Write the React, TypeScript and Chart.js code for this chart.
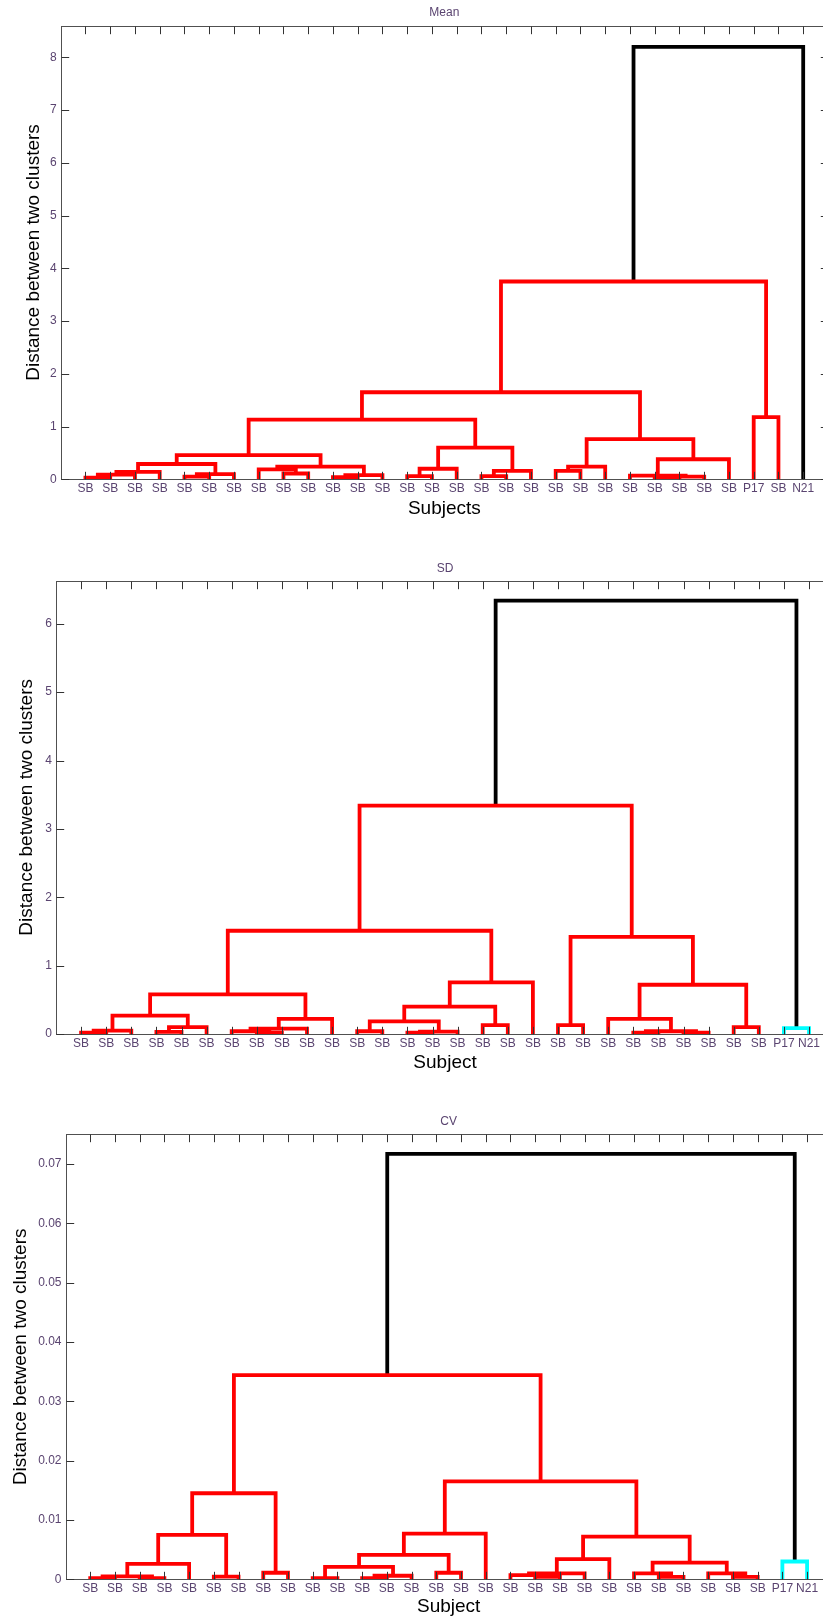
import React, { useEffect, useRef } from 'react';
import { Chart, registerables } from 'chart.js';

Chart.register(...registerables);

// ---------------- DATA ----------------
const meanLeafLabels = [
  'SB', 'SB', 'SB', 'SB', 'SB', 'SB', 'SB', 'SB', 'SB', 'SB',
  'SB', 'SB', 'SB', 'SB', 'SB', 'SB', 'SB', 'SB', 'SB', 'SB',
  'SB', 'SB', 'SB', 'SB', 'SB', 'SB', 'SB', 'P17', 'SB', 'N21',
];
const sdLeafLabels = [
  'SB', 'SB', 'SB', 'SB', 'SB', 'SB', 'SB', 'SB', 'SB', 'SB',
  'SB', 'SB', 'SB', 'SB', 'SB', 'SB', 'SB', 'SB', 'SB', 'SB',
  'SB', 'SB', 'SB', 'SB', 'SB', 'SB', 'SB', 'SB', 'P17', 'N21',
];
const cvLeafLabels = [
  'SB', 'SB', 'SB', 'SB', 'SB', 'SB', 'SB', 'SB', 'SB', 'SB',
  'SB', 'SB', 'SB', 'SB', 'SB', 'SB', 'SB', 'SB', 'SB', 'SB',
  'SB', 'SB', 'SB', 'SB', 'SB', 'SB', 'SB', 'SB', 'P17', 'N21',
];

// linkage rows: [left node, right node, merge height]
// nodes 1..30 are leaves in display order; node 31+k is the cluster made by row k
const meanLinkage: [number, number, number][] = [
  [1, 2, 0.03], [31, 3, 0.09], [32, 4, 0.14], [5, 6, 0.05], [34, 7, 0.1],
  [33, 35, 0.29], [9, 10, 0.11], [8, 37, 0.19], [11, 12, 0.04], [39, 13, 0.08],
  [38, 40, 0.24], [36, 41, 0.46], [14, 15, 0.06], [43, 16, 0.2], [17, 18, 0.06],
  [45, 19, 0.16], [44, 46, 0.6], [42, 47, 1.13], [20, 21, 0.16], [49, 22, 0.24],
  [24, 25, 0.03], [51, 26, 0.05], [23, 52, 0.07], [53, 27, 0.38], [50, 54, 0.76],
  [48, 55, 1.65], [28, 29, 1.18], [56, 57, 3.75], [58, 30, 8.2],
];
const sdLinkage: [number, number, number][] = [
  [1, 2, 0.02], [31, 3, 0.05], [4, 5, 0.03], [33, 6, 0.1], [32, 34, 0.27],
  [8, 9, 0.02], [7, 36, 0.04], [37, 10, 0.08], [38, 11, 0.22], [35, 39, 0.58],
  [12, 13, 0.04], [14, 15, 0.02], [42, 16, 0.035], [41, 43, 0.185], [17, 18, 0.13],
  [44, 45, 0.4], [46, 19, 0.756], [40, 47, 1.51], [20, 21, 0.13], [23, 24, 0.02],
  [25, 26, 0.02], [50, 51, 0.04], [22, 52, 0.22], [27, 28, 0.1], [53, 54, 0.72],
  [49, 55, 1.42], [48, 56, 3.34], [29, 30, 0.085], [57, 58, 6.34],
];
const cvLinkage: [number, number, number][] = [
  [1, 2, 0.0002], [3, 4, 0.0002], [31, 32, 0.0005], [33, 5, 0.0026], [6, 7, 0.00045],
  [34, 35, 0.0075], [8, 9, 0.0011], [36, 37, 0.0145], [10, 11, 0.0002], [12, 13, 0.0002],
  [40, 14, 0.0006], [39, 41, 0.0021], [15, 16, 0.0011], [42, 43, 0.0041], [44, 17, 0.0077],
  [19, 20, 0.0004], [18, 46, 0.0007], [47, 21, 0.001], [48, 22, 0.0034], [24, 25, 0.0004],
  [23, 50, 0.001], [27, 28, 0.0004], [26, 52, 0.001], [51, 53, 0.0028], [49, 54, 0.0072],
  [45, 55, 0.0165], [38, 56, 0.0344], [29, 30, 0.003], [57, 58, 0.0717],
];

const meanYTicks = [0, 1, 2, 3, 4, 5, 6, 7, 8];
const meanYTickLabels = ['0', '1', '2', '3', '4', '5', '6', '7', '8'];
const sdYTicks = [0, 1, 2, 3, 4, 5, 6];
const sdYTickLabels = ['0', '1', '2', '3', '4', '5', '6'];
const cvYTicks = [0, 0.01, 0.02, 0.03, 0.04, 0.05, 0.06, 0.07];
const cvYTickLabels = ['0', '0.01', '0.02', '0.03', '0.04', '0.05', '0.06', '0.07'];

const yAxisTitle = 'Distance between two clusters';

// ---------------- STYLE / LAYOUT ----------------
const FONT = "'Liberation Sans', Arial, sans-serif";
const TICK_COLOR = '#5a4470';
const AXIS_COLOR = '#505050';
const LINE_WIDTH = 3.8;
const TICK_LEN = 7.7;

interface Panel {
  title: string;
  xTitle: string;
  labels: string[];
  linkage: [number, number, number][];
  yTicks: number[];
  yTickLabels: string[];
  yMax: number;
  top: number;
  height: number;
  plotLeft: number;
  plotTop: number;
  plotBottom: number;
  spacing: number;
  titleY: number;
  yTitleX: number;
  xTitleY: number;
}

const panels: Panel[] = [
  {
    title: 'Mean', xTitle: 'Subjects', labels: meanLeafLabels, linkage: meanLinkage,
    yTicks: meanYTicks, yTickLabels: meanYTickLabels, yMax: 8.6,
    top: 0, height: 525, plotLeft: 60.7, plotTop: 25.7, plotBottom: 479.3, spacing: 24.75,
    titleY: 13, yTitleX: 33.3, xTitleY: 509,
  },
  {
    title: 'SD', xTitle: 'Subject', labels: sdLeafLabels, linkage: sdLinkage,
    yTicks: sdYTicks, yTickLabels: sdYTickLabels, yMax: 6.63,
    top: 540, height: 539, plotLeft: 56, plotTop: 580.7, plotBottom: 1034, spacing: 25.1,
    titleY: 568.3, yTitleX: 26.5, xTitleY: 1063,
  },
  {
    title: 'CV', xTitle: 'Subject', labels: cvLeafLabels, linkage: cvLinkage,
    yTicks: cvYTicks, yTickLabels: cvYTickLabels, yMax: 0.075,
    top: 1090, height: 528, plotLeft: 65.5, plotTop: 1134.3, plotBottom: 1579.3, spacing: 24.72,
    titleY: 1121.7, yTitleX: 21, xTitleY: 1607,
  },
];

function hsvColor(h: number): string {
  const i = Math.floor(h * 6);
  const f = h * 6 - i;
  const q = 1 - f;
  const rows = [[1, f, 0], [q, 1, 0], [0, 1, f], [0, q, 1], [f, 0, 1], [1, 0, q]];
  const [r, g, b] = rows[i % 6];
  return `rgb(${Math.round(r * 255)},${Math.round(g * 255)},${Math.round(b * 255)})`;
}

function buildDatasets(labels: string[], linkage: [number, number, number][]) {
  const n = labels.length;
  const x: number[] = [];
  const h: number[] = [];
  const parent: Record<number, number> = {};
  for (let i = 1; i <= n; i++) { x[i] = i; h[i] = 0; }
  linkage.forEach(([a, b, hh], k) => {
    const id = n + 1 + k;
    x[id] = (x[a] + x[b]) / 2;
    h[id] = hh;
    parent[a] = id;
    parent[b] = id;
  });
  const maxH = Math.max(...linkage.map((l) => l[2]));
  const thr = 0.7 * maxH;
  const roots: number[] = [];
  for (let id = n + 1; id <= n + linkage.length; id++) {
    const p = parent[id];
    if (h[id] < thr && (p === undefined || h[p] >= thr)) roots.push(id);
  }
  roots.sort((p, q) => x[p] - x[q]);
  const colorOf: Record<number, string> = {};
  roots.forEach((r, i) => { colorOf[r] = hsvColor(i / roots.length); });
  const groupColor = (id: number) => {
    let c: number | undefined = id;
    while (c !== undefined && !(c in colorOf)) c = parent[c];
    return c === undefined ? '#000000' : colorOf[c];
  };
  return linkage.map(([a, b, hh], k) => {
    const id = n + 1 + k;
    const color = hh >= thr ? '#000000' : groupColor(id);
    return {
      type: 'line' as const,
      data: [
        { x: x[a], y: h[a] },
        { x: x[a], y: hh },
        { x: x[b], y: hh },
        { x: x[b], y: h[b] },
      ],
      borderColor: color,
      backgroundColor: color,
      borderWidth: LINE_WIDTH,
      borderJoinStyle: 'miter' as const,
      borderCapStyle: 'butt' as const,
      pointRadius: 0,
      fill: false,
      tension: 0,
    };
  });
}

const framePlugin = {
  id: 'matlabFrame',
  afterDatasetsDraw(chart: any) {
    const { ctx, chartArea: a, scales } = chart;
    const xs = scales.x;
    const ys = scales.y;
    ctx.save();
    ctx.strokeStyle = AXIS_COLOR;
    ctx.lineWidth = 1;
    const L = Math.round(a.left) + 0.5;
    const R = Math.round(a.right) + 0.5;
    const T = Math.round(a.top) + 0.5;
    const B = Math.round(a.bottom) + 0.5;
    ctx.strokeRect(L, T, R - L, B - T);
    ctx.strokeStyle = '#333333';
    ctx.beginPath();
    xs.ticks.forEach((t: any) => {
      const px = Math.round(xs.getPixelForValue(t.value)) + 0.5;
      ctx.moveTo(px, B); ctx.lineTo(px, B - TICK_LEN);
      ctx.moveTo(px, T); ctx.lineTo(px, T + TICK_LEN);
    });
    ys.ticks.forEach((t: any) => {
      const py = Math.round(ys.getPixelForValue(t.value)) + 0.5;
      ctx.moveTo(L, py); ctx.lineTo(L + TICK_LEN, py);
      ctx.moveTo(R, py); ctx.lineTo(R - TICK_LEN, py);
    });
    ctx.stroke();
    ctx.restore();
  },
};

function DendroPanel({ p }: { p: Panel }) {
  const ref = useRef<HTMLCanvasElement | null>(null);
  const n = p.labels.length;
  const plotRight = p.plotLeft + (n + 1) * p.spacing;
  const width = Math.ceil(plotRight + 10);

  useEffect(() => {
    if (!ref.current) return;
    const bottom = p.top + p.height;
    const xH = bottom - p.plotBottom;
    const titleLH = 12 * 1.2;
    const axisTitleSize = 19;
    const axisLH = axisTitleSize * 1.2;
    const chart = new Chart(ref.current, {
      type: 'line',
      data: { datasets: buildDatasets(p.labels, p.linkage) as any },
      options: {
        responsive: false,
        maintainAspectRatio: false,
        animation: false,
        events: [],
        layout: { padding: { left: 0, right: width - plotRight, top: 0, bottom: 0 } },
        plugins: {
          legend: { display: false },
          tooltip: { enabled: false },
          title: {
            display: true,
            text: p.title,
            fullSize: false,
            color: TICK_COLOR,
            font: { family: FONT, size: 12, weight: 'normal' },
            padding: {
              top: p.titleY - p.top - titleLH / 2,
              bottom: p.plotTop - p.titleY - titleLH / 2,
            },
          },
        },
        scales: {
          x: {
            type: 'linear',
            min: 0,
            max: n + 1,
            afterBuildTicks: (s: any) => { s.ticks = p.labels.map((_, i) => ({ value: i + 1 })); },
            afterFit: (s: any) => { s.height = xH; },
            grid: { display: false, drawTicks: false },
            border: { display: false },
            ticks: {
              autoSkip: false,
              maxRotation: 0,
              minRotation: 0,
              padding: 2,
              color: TICK_COLOR,
              font: { family: FONT, size: 12 },
              callback: (_v: any, i: number) => p.labels[i],
            },
            title: {
              display: true,
              text: p.xTitle,
              color: '#000000',
              font: { family: FONT, size: axisTitleSize },
              padding: { top: 0, bottom: Math.max(0, bottom - p.xTitleY - axisLH / 2) },
            },
          },
          y: {
            type: 'linear',
            min: 0,
            max: p.yMax,
            afterBuildTicks: (s: any) => { s.ticks = p.yTicks.map((v) => ({ value: v })); },
            afterFit: (s: any) => { s.width = p.plotLeft; },
            grid: { display: false, drawTicks: false },
            border: { display: false },
            ticks: {
              padding: 4,
              color: TICK_COLOR,
              font: { family: FONT, size: 12 },
              callback: (_v: any, i: number) => p.yTickLabels[i],
            },
            title: {
              display: true,
              text: yAxisTitle,
              color: '#000000',
              font: { family: FONT, size: axisTitleSize },
              padding: { top: p.yTitleX - axisLH / 2, bottom: 0 },
            },
          },
        },
      } as any,
      plugins: [framePlugin],
    });
    return () => chart.destroy();
  }, [p]);

  return (
    <canvas
      ref={ref}
      width={width}
      height={p.height}
      style={{ position: 'absolute', left: 0, top: p.top, display: 'block' }}
    />
  );
}

export default function App() {
  return (
    <div
      style={{
        position: 'absolute',
        left: 0,
        top: 0,
        width: 823,
        height: 1618,
        overflow: 'hidden',
        background: '#ffffff',
      }}
    >
      {panels.map((p) => (
        <DendroPanel key={p.title} p={p} />
      ))}
    </div>
  );
}
